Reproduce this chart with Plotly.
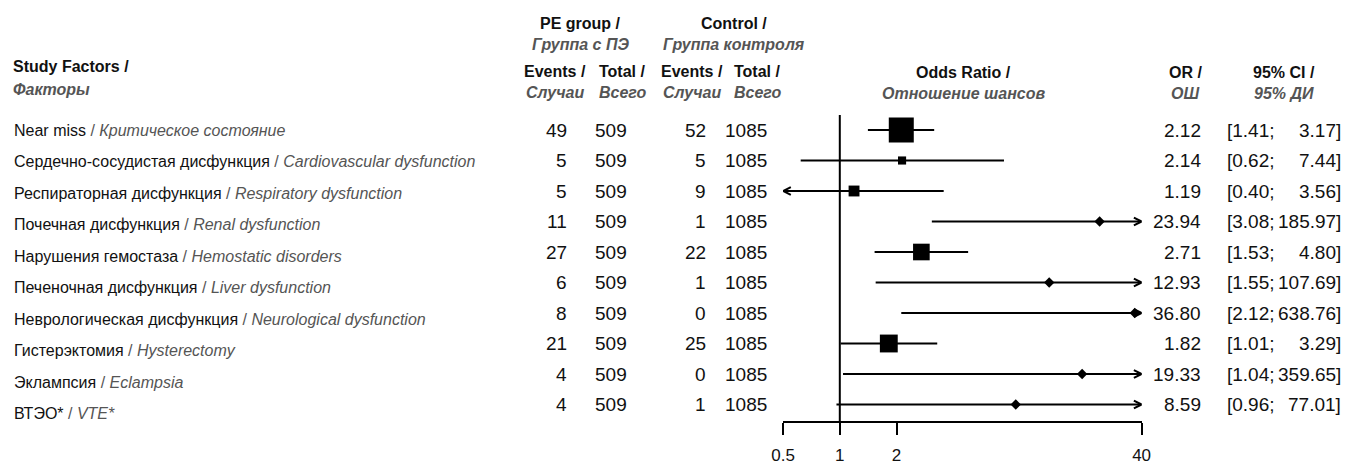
import math
import plotly.graph_objects as go

# ---------------- data ----------------
labels_main = ["Near miss", "Сердечно-сосудистая дисфункция", "Респираторная дисфункция",
               "Почечная дисфункция", "Нарушения гемостаза", "Печеночная дисфункция",
               "Неврологическая дисфункция", "Гистерэктомия", "Эклампсия", "ВТЭО*"]
labels_alt = ["Критическое состояние", "Cardiovascular dysfunction", "Respiratory dysfunction",
              "Renal dysfunction", "Hemostatic disorders", "Liver dysfunction",
              "Neurological dysfunction", "Hysterectomy", "Eclampsia", "VTE*"]
pe_events = [49, 5, 5, 11, 27, 6, 8, 21, 4, 4]
pe_total = [509, 509, 509, 509, 509, 509, 509, 509, 509, 509]
ctrl_events = [52, 5, 9, 1, 22, 1, 0, 25, 0, 1]
ctrl_total = [1085, 1085, 1085, 1085, 1085, 1085, 1085, 1085, 1085, 1085]
odds_ratio = [2.12, 2.14, 1.19, 23.94, 2.71, 12.93, 36.80, 1.82, 19.33, 8.59]
ci_low = [1.41, 0.62, 0.40, 3.08, 1.53, 1.55, 2.12, 1.01, 1.04, 0.96]
ci_high = [3.17, 7.44, 3.56, 185.97, 4.80, 107.69, 638.76, 3.29, 359.65, 77.01]
axis_ticks = [0.5, 1, 2, 40]
axis_ticktext = ["0.5", "1", "2", "40"]
x_limits = [0.5, 40]

# ---------------- layout helpers ----------------
W, H = 1345, 468
FONT = "Liberation Sans, Arial, Helvetica, sans-serif"
GRAY = "#555555"
BLACK = "#111111"

def px(x):
    return x / W

def py(y):
    return 1 - y / H

ROW0, ROWSTEP = 130.0, 30.5        # pixel centre of first row, row spacing
LABEL_STEP = 31.55                 # spacing of the left-hand labels
AXIS_Y = 421.0                     # pixel y of the x-axis line
AX_LEFT, AX_RIGHT = 783.0, 1141.7  # pixel span of the x axis

y_top = -ROW0 / ROWSTEP
y_bottom = (AXIS_Y - ROW0) / ROWSTEP
n = len(labels_main)
rows = list(range(n))

# Mantel-Haenszel weights -> box size
def mh_weight(a, n1, c, n2):
    b, d = n1 - a, n2 - c
    if 0 in (a, b, c, d):
        a, b, c, d = a + 0.5, b + 0.5, c + 0.5, d + 0.5
    return b * c / (a + b + c + d)

weights = [mh_weight(a, n1, c, n2) for a, n1, c, n2 in zip(pe_events, pe_total, ctrl_events, ctrl_total)]
wmax = max(weights)
raw_sizes = [25.0 * math.sqrt(w / wmax) for w in weights]
box_sizes = [s if s >= 6 else 8 for s in raw_sizes]
box_symbols = ["square" if s >= 6 else "diamond" for s in raw_sizes]

# ---------------- CI lines with arrows ----------------
xmin, xmax = x_limits
head_dx = 10 ** 0.041   # arrowhead length (log units)
head_dy = 0.13          # arrowhead half-height (row units)
lx, ly = [], []
for i, (lo, hi) in enumerate(zip(ci_low, ci_high)):
    lx += [max(lo, xmin), min(hi, xmax), None]
    ly += [i, i, None]
    if hi > xmax:
        back = xmax / head_dx
        lx += [back, xmax, back, None]
        ly += [i - head_dy, i, i + head_dy, None]
    if lo < xmin:
        back = xmin * head_dx
        lx += [back, xmin, back, None]
        ly += [i - head_dy, i, i + head_dy, None]

fig = go.Figure()
fig.add_trace(go.Scatter(x=[1, 1], y=[-0.49, y_bottom], mode="lines",
                         line=dict(color="black", width=2), hoverinfo="skip"))
fig.add_trace(go.Scatter(x=lx, y=ly, mode="lines",
                         line=dict(color="black", width=2), hoverinfo="skip"))
fig.add_trace(go.Scatter(x=odds_ratio, y=rows, mode="markers",
                         marker=dict(symbol=box_symbols, size=box_sizes, color="black",
                                     opacity=1, line=dict(width=0))))

annotations = []

def add_text(text, x, y, anchor, size, yref="paper", color=BLACK):
    annotations.append(dict(text=text, x=x, y=y, xref="paper", yref=yref,
                            xanchor=anchor, yanchor="middle", showarrow=False,
                            font=dict(family=FONT, size=size, color=color)))

# left labels
for i, (m, a) in enumerate(zip(labels_main, labels_alt)):
    add_text(f"{m}<span style='color:{GRAY}'> / <i>{a}</i></span>", px(12),
             py(ROW0 + LABEL_STEP * i), "left", 16)

# numeric columns
for i in rows:
    add_text(str(pe_events[i]), px(569), i, "right", 19, yref="y")
    add_text(str(pe_total[i]), px(629), i, "right", 19, yref="y")
    add_text(str(ctrl_events[i]), px(708), i, "right", 19, yref="y")
    add_text(str(ctrl_total[i]), px(769), i, "right", 19, yref="y")
    add_text(f"{odds_ratio[i]:.2f}", px(1203), i, "right", 19, yref="y")
    add_text(f"[{ci_low[i]:.2f};", px(1225), i, "left", 19, yref="y")
    add_text(f"{ci_high[i]:.2f}]", px(1343), i, "right", 19, yref="y")

# headers
def header(bold_txt, ital_txt, xc, y1, y2, anchor="center"):
    add_text(f"<b>{bold_txt}</b>", px(xc), py(y1), anchor, 16)
    add_text(f"<b><i>{ital_txt}</i></b>", px(xc), py(y2), anchor, 16, color=GRAY)

header("Study Factors /", "Факторы", 11, 67, 89, anchor="left")
header("PE group /", "Группа с ПЭ", 580, 23, 44)
header("Control /", "Группа контроля", 734, 23, 44)
header("Events /", "Случаи", 555, 71, 93)
header("Total /", "Всего", 622, 71, 93)
header("Events /", "Случаи", 692, 71, 93)
header("Total /", "Всего", 757, 71, 93)
header("Odds Ratio /", "Отношение шансов", 963, 72, 94)
header("OR /", "ОШ", 1185, 72, 94)
header("95% CI /", "95% ДИ", 1284, 72, 94)

eps = 0.0005
fig.update_layout(
    width=W, height=H,
    margin=dict(l=0, r=0, t=0, b=0, pad=0, autoexpand=False),
    paper_bgcolor="white", plot_bgcolor="white",
    showlegend=False,
    annotations=annotations,
    font=dict(family=FONT, color=BLACK),
    xaxis=dict(type="log", domain=[px(AX_LEFT), px(AX_RIGHT)],
               range=[math.log10(xmin) - eps, math.log10(xmax) + eps],
               showgrid=False, zeroline=False, showline=True, linewidth=2, linecolor="black",
               ticks="outside", ticklen=12, tickwidth=2, tickcolor="black",
               tickvals=axis_ticks, ticktext=axis_ticktext,
               tickfont=dict(family=FONT, size=17, color=BLACK), ticklabelstandoff=6),
    yaxis=dict(domain=[1 - AXIS_Y / H, 1], range=[y_bottom, y_top],
               visible=False, showgrid=False, zeroline=False),
)

fig.write_html("out.html")
